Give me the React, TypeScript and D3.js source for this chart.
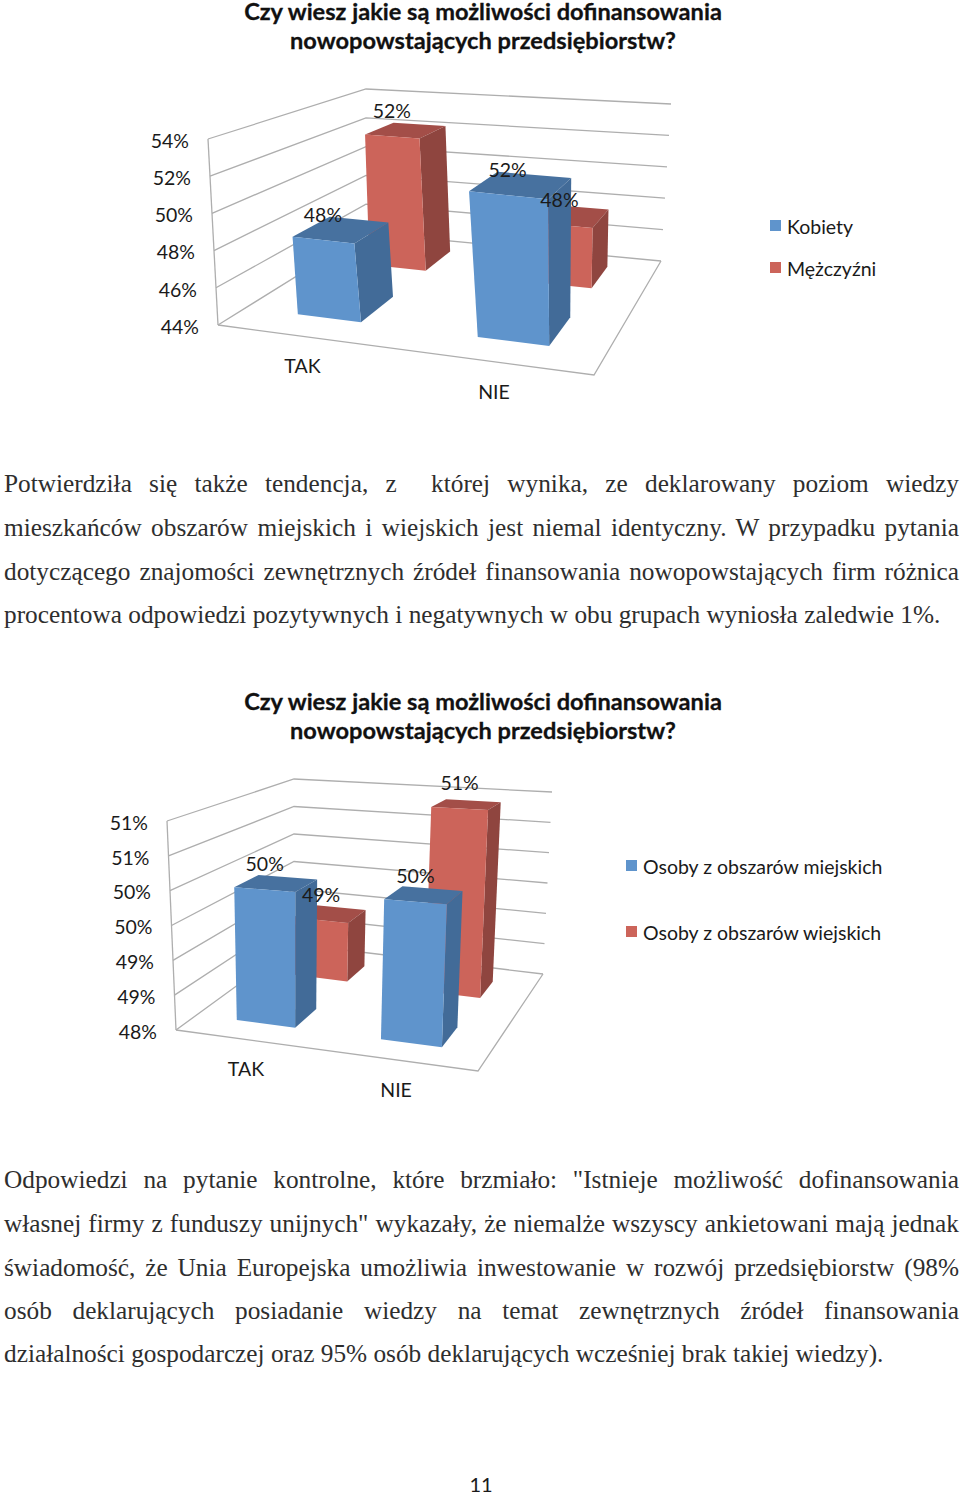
// App.tsx - two pseudo-3D column charts on a report page
import React, { useEffect, useRef } from 'react';
import * as d3 from 'd3';

const chartTitle = ['Czy wiesz jakie są możliwości dofinansowania', 'nowopowstających przedsiębiorstw?'];
const categories = ['TAK', 'NIE'];

const genderSeries = ['Kobiety', 'Mężczyźni'];
const genderFront = [48.3, 51.8];
const genderBack = [52.2, 47.6];
const genderTicks = [44, 46, 48, 50, 52, 54];

const placeSeries = ['Osoby z obszarów miejskich', 'Osoby z obszarów wiejskich'];
const placeFront = [49.95, 49.95];
const placeBack = [48.95, 50.9];
const placeTicks = [48, 48.5, 49, 49.5, 50, 50.5, 51];

const paragraphOne = [
  'Potwierdziła się także tendencja, z  której wynika, ze deklarowany poziom wiedzy',
  'mieszkańców obszarów miejskich i wiejskich jest niemal identyczny. W przypadku pytania',
  'dotyczącego znajomości zewnętrznych źródeł finansowania nowopowstających firm różnica',
  'procentowa odpowiedzi pozytywnych i negatywnych w obu grupach wyniosła zaledwie 1%.',
];
const paragraphTwo = [
  'Odpowiedzi na pytanie kontrolne, które brzmiało: "Istnieje możliwość dofinansowania',
  'własnej firmy z funduszy unijnych" wykazały, że niemalże wszyscy ankietowani mają jednak',
  'świadomość, że Unia Europejska umożliwia inwestowanie w rozwój przedsiębiorstw (98%',
  'osób deklarujących posiadanie wiedzy na temat zewnętrznych źródeł finansowania',
  'działalności gospodarczej oraz 95% osób deklarujących wcześniej brak takiej wiedzy).',
];

const CHART_FONT = 'Lato, "Open Sans", sans-serif';
const BODY_FONT = '"Liberation Serif", "Times New Roman", serif';
const GRID = '#aeaeae';
const faces = [
  { front: '#5f94cc', side: '#426b98', top: '#47719f' },
  { front: '#cc645a', side: '#8f453f', top: '#a34e48' },
];

type Pt = [number, number];

// maps the unit square onto a quad: (0,0) a, (1,0) b, (1,1) c, (0,1) d
const quadMap = (a: Pt, b: Pt, c: Pt, d: Pt) => {
  const dx1 = b[0] - c[0];
  const dx2 = d[0] - c[0];
  const sx = a[0] - b[0] + c[0] - d[0];
  const dy1 = b[1] - c[1];
  const dy2 = d[1] - c[1];
  const sy = a[1] - b[1] + c[1] - d[1];
  const den = dx1 * dy2 - dx2 * dy1;
  const g = (sx * dy2 - dx2 * sy) / den;
  const h = (dx1 * sy - sx * dy1) / den;
  return (u: number, v: number): Pt => {
    const w = g * u + h * v + 1;
    return [
      ((b[0] - a[0] + g * b[0]) * u + (d[0] - a[0] + h * d[0]) * v + a[0]) / w,
      ((b[1] - a[1] + g * b[1]) * u + (d[1] - a[1] + h * d[1]) * v + a[1]) / w,
    ];
  };
};

type BandSetup = { range: [number, number]; inner: number; outer: number };

type ChartProps = {
  floor: [Pt, Pt, Pt, Pt]; // front-left, front-right, back-right, back-left
  ceil: [Pt, Pt, Pt, Pt];
  front: number[];
  back: number[];
  ticks: number[];
  series: string[];
  xBand: BandSetup;
  zBand: BandSetup;
  legendX: number;
  legendY: number[];
  titleY: number;
  catOffset: Pt;
  labelOffset: number;
};

const Chart3D: React.FC<ChartProps> = (p) => {
  const onFloor = quadMap(...p.floor);
  const onCeil = quadMap(...p.ceil);
  const y = d3.scaleLinear().domain(d3.extent(p.ticks) as [number, number]).range([0, 1]);
  const x = d3.scaleBand().domain(categories).range(p.xBand.range).paddingInner(p.xBand.inner).paddingOuter(p.xBand.outer);
  const z = d3.scaleBand().domain(p.series).range(p.zBand.range).paddingInner(p.zBand.inner).paddingOuter(p.zBand.outer);

  // x and z are floor fractions, t is the height fraction
  const project = (u: number, v: number, t: number): Pt => {
    const a = onFloor(u, v);
    const b = onCeil(u, v);
    return [a[0] + (b[0] - a[0]) * t, a[1] + (b[1] - a[1]) * t];
  };
  const line = d3.line<Pt>();
  const closed = (pts: Pt[]) => line(pts) + 'Z';
  const fmt = (v: number) => `${Math.round(v)}%`;

  const rows = [
    { idx: 1, values: p.back },
    { idx: 0, values: p.front },
  ];

  const bars = rows.flatMap((r) =>
    categories.map((c, i) => {
      const x0 = x(c)!;
      const x1 = x0 + x.bandwidth();
      const z0 = z(p.series[r.idx])!;
      const z1 = z0 + z.bandwidth();
      const t = y(r.values[i]);
      return { key: `${r.idx}-${c}`, idx: r.idx, v: r.values[i], x0, x1, z0, z1, t };
    }),
  );

  return (
    <g>
      {chartTitle.map((s, i) => (
        <text key={s} x={483} y={p.titleY + i * 29} textAnchor="middle" fontFamily={CHART_FONT} fontWeight={700} fontSize={23.6} fill="#111" stroke="#111" strokeWidth={0.3}>
          {s}
        </text>
      ))}

      {/* walls */}
      <g fill="none" stroke={GRID} strokeWidth={1.3}>
        {p.ticks.map((tk) => (
          <path key={tk} d={line([project(0, 0, y(tk)), project(0, 1, y(tk)), project(1, 1, y(tk))])!} />
        ))}
        <path d={line([project(0, 0, 0), project(0, 0, 1)])!} />
        <path d={line([project(0, 0, 0), project(1, 0, 0), project(1, 1, 0)])!} />
      </g>

      {/* tick labels */}
      {p.ticks.map((tk) => {
        const [px, py] = project(0, 0, y(tk));
        return (
          <text key={tk} x={px - 19} y={py + 2} dy="0.35em" textAnchor="end" fontFamily={CHART_FONT} fontSize={19.5} fill="#1a1a1a">
            {fmt(tk)}
          </text>
        );
      })}

      {/* columns, back row first */}
      {bars.map((b) => (
        <g key={b.key}>
          <path fill={faces[b.idx].top} d={closed([project(b.x0, b.z0, b.t), project(b.x1, b.z0, b.t), project(b.x1, b.z1, b.t), project(b.x0, b.z1, b.t)])} />
          <path fill={faces[b.idx].side} d={closed([project(b.x1, b.z0, 0), project(b.x1, b.z1, 0), project(b.x1, b.z1, b.t), project(b.x1, b.z0, b.t)])} />
          <path fill={faces[b.idx].front} d={closed([project(b.x0, b.z0, 0), project(b.x1, b.z0, 0), project(b.x1, b.z0, b.t), project(b.x0, b.z0, b.t)])} />
        </g>
      ))}

      {/* value labels */}
      {bars.map((b) => {
        const [px, py] = project((b.x0 + b.x1) / 2, b.z0, b.t);
        return (
          <text key={b.key} x={px} y={py + p.labelOffset} dy="0.35em" textAnchor="middle" fontFamily={CHART_FONT} fontSize={19.5} fill="#1a1a1a">
            {fmt(b.v)}
          </text>
        );
      })}

      {/* category labels */}
      {categories.map((c) => {
        const [px, py] = project(x(c)! + x.bandwidth() / 2, 0, 0);
        return (
          <text key={c} x={px + p.catOffset[0]} y={py + p.catOffset[1]} dy="0.35em" textAnchor="middle" fontFamily={CHART_FONT} fontSize={19.5} fill="#1a1a1a">
            {c}
          </text>
        );
      })}

      {/* legend */}
      {p.series.map((s, i) => (
        <g key={s}>
          <rect x={p.legendX} y={p.legendY[i] - 7} width={11} height={11} fill={faces[i].front} />
          <text x={p.legendX + 17} y={p.legendY[i]} dy="0.35em" fontFamily={CHART_FONT} fontSize={19.5} fill="#1a1a1a">
            {s}
          </text>
        </g>
      ))}
    </g>
  );
};

const Paragraph: React.FC<{ lines: string[]; baselines: number[] }> = ({ lines, baselines }) => (
  <g>
    {lines.map((s, i) => (
      <text
        key={s}
        className={i < lines.length - 1 ? 'justify' : undefined}
        x={4}
        y={baselines[i]}
        fontFamily={BODY_FONT}
        fontSize={25.3}
        fill="#2e2e2e"
        style={{ whiteSpace: 'pre' }}
      >
        {s}
      </text>
    ))}
  </g>
);

const App: React.FC = () => {
  const svgRef = useRef<SVGSVGElement | null>(null);

  // justify the body text the way the page does, by stretching the word gaps
  useEffect(() => {
    if (!svgRef.current) return;
    d3.select(svgRef.current)
      .selectAll<SVGTextElement, unknown>('text.justify')
      .each(function () {
        const gaps = (this.textContent || '').split(' ').length - 1;
        const extra = (955 - this.getComputedTextLength()) / gaps;
        d3.select(this).style('word-spacing', `${extra}px`);
      });
  }, []);

  return (
    <svg ref={svgRef} width={960} height={1495} style={{ position: 'absolute', left: 0, top: 0, background: '#fff' }}>
      <Chart3D
        floor={[[218, 325], [594, 375], [661, 261], [366, 233]]}
        ceil={[[208, 139], [604, 180], [671, 104], [366, 89]]}
        front={genderFront}
        back={genderBack}
        ticks={genderTicks}
        series={genderSeries}
        xBand={{ range: [0, 1.016], inner: 0.635, outer: 0.314 }}
        zBand={{ range: [0, 1.03], inner: 0.54, outer: 0.3 }}
        legendX={770}
        legendY={[227, 269]}
        titleY={20}
        catOffset={[-2, 30]}
        labelOffset={-25}
      />
      <Chart3D
        floor={[[176, 1030], [478, 1071], [543, 974], [294, 944]]}
        ceil={[[167, 821], [487, 838], [552, 792], [294, 779]]}
        front={placeFront}
        back={placeBack}
        ticks={placeTicks}
        series={placeSeries}
        xBand={{ range: [-0.008, 0.992], inner: 0.59, outer: 0.3 }}
        zBand={{ range: [0, 0.99], inner: 0.62, outer: 0.3 }}
        legendX={626}
        legendY={[867, 933]}
        titleY={710}
        catOffset={[-1, 30]}
        labelOffset={-25}
      />
      <Paragraph lines={paragraphOne} baselines={[492, 536, 580, 623]} />
      <Paragraph lines={paragraphTwo} baselines={[1188, 1232, 1276, 1319, 1362]} />
      <text x={481} y={1492} textAnchor="middle" fontFamily={CHART_FONT} fontSize={20} fill="#1a1a1a">
        11
      </text>
    </svg>
  );
};

export default App;
